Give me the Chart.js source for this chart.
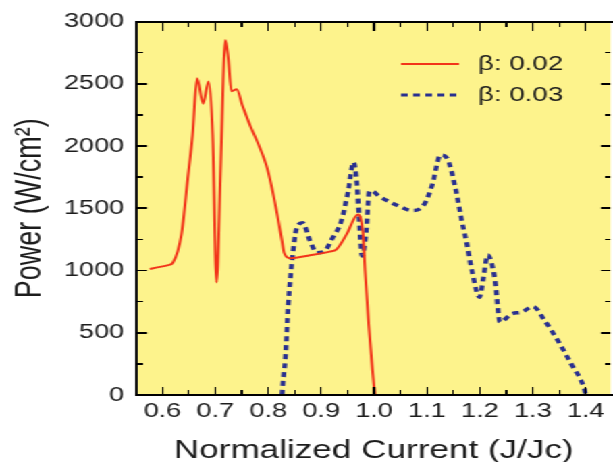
<!DOCTYPE html>
<html>
<head>
<meta charset="utf-8">
<script src="https://cdn.jsdelivr.net/npm/chart.js@4"></script>
<style>
  html, body { margin: 0; padding: 0; background: #fff; overflow: hidden; }
  /* the reference is stretched sideways, so the chart is drawn narrow and scaled */
  #wrap { position: relative; width: 454px; height: 462px; transform: scaleX(1.3502); transform-origin: 0 0; }
  #frameLayer { position: absolute; left: 0; top: 0; width: 454px; height: 462px; pointer-events: none; }
  #frameLayer div { position: absolute; background: #000; }
</style>
</head>
<body>
<div id="wrap"><canvas id="powerChart"></canvas><div id="frameLayer"></div></div>
<script>
/* ================= DATA ================= */
const redX = [0.576, 0.590, 0.611, 0.620, 0.636, 0.648, 0.657, 0.6655, 0.677, 0.687, 0.695,
  0.7024, 0.710, 0.719, 0.7245, 0.7305, 0.7404, 0.751, 0.757, 0.7667, 0.782, 0.798, 0.807,
  0.817, 0.826, 0.830, 0.8416, 0.879, 0.916, 0.929, 0.948, 0.9695, 0.975, 0.979, 0.983,
  0.990, 0.997, 1.0015];
const redY = [1011, 1025, 1043, 1064, 1290, 1742, 2088, 2545, 2340, 2518, 2088,
  904, 1822, 2851, 2700, 2440, 2455, 2328, 2260, 2155, 2008, 1822, 1662,
  1450, 1237, 1143, 1099, 1122, 1152, 1170, 1290, 1450, 1415, 1300, 1000,
  560, 200, 0];

const blueX = [0.826, 0.828, 0.832, 0.838, 0.845, 0.854, 0.865, 0.879, 0.8916, 0.907, 0.920,
  0.938, 0.951, 0.9614, 0.9677, 0.9714, 0.9775, 0.9852, 0.991, 0.9945, 1.010, 1.0476,
  1.0725, 1.0944, 1.110, 1.1257, 1.138, 1.1537, 1.166, 1.1755, 1.185, 1.1993, 1.2067,
  1.2148, 1.221, 1.2287, 1.238, 1.2598, 1.2785, 1.3004, 1.3223, 1.347, 1.372, 1.397, 1.400];
const blueY = [0, 106, 279, 731, 1077, 1343, 1383, 1237, 1143, 1157, 1250,
  1396, 1636, 1870, 1689, 1450, 1117, 1317, 1636, 1641, 1596, 1516,
  1481, 1529, 1689, 1928, 1902, 1662, 1396, 1210, 997, 785, 944,
  1125, 1077, 918, 585, 652, 665, 710, 598, 439, 253, 53, 0];

const seriesLabels = ["β: 0.02", "β: 0.03"];

const xMajorTicks = [0.6, 0.7, 0.8, 0.9, 1.0, 1.1, 1.2, 1.3, 1.4];
const xMinorTicks = [0.65, 0.75, 0.85, 0.95, 1.05, 1.15, 1.25, 1.35];
const yMajorTicks = [0, 500, 1000, 1500, 2000, 2500, 3000];
const yMinorTicks = [250, 750, 1250, 1750, 2250, 2750];

/* ================= HELPERS ================= */
const SX = 613 / 454;
const FONT = "'Liberation Sans', Arial, sans-serif";
const INK = '#1c1c1c';

function toPoints(xs, ys) {
  return xs.map((x, i) => ({ x: x, y: ys[i] }));
}

/* frame + inward ticks, placed from the chart scales */
function placeFrame(chart) {
  const a = chart.chartArea;
  const xs = chart.scales.x, ys = chart.scales.y;
  const layer = document.getElementById('frameLayer');
  layer.innerHTML = '';
  const bar = (l, t, w, h) => {
    const d = document.createElement('div');
    d.style.left = l + 'px';
    d.style.top = t + 'px';
    d.style.width = w + 'px';
    d.style.height = h + 'px';
    layer.appendChild(d);
  };
  bar(a.left - 1, a.top - 1, a.right - a.left + 4, 2);
  bar(a.left - 1, a.bottom - 1, a.right - a.left + 4, 2);
  bar(a.left - 1, a.top - 1, 2 / SX * 1.3, a.bottom - a.top + 2);

  const w = 1.6 / SX;
  xMajorTicks.concat(xMinorTicks).forEach(v => {
    const major = xMajorTicks.includes(v);
    const px = xs.getPixelForValue(v);
    bar(px - w / 2, a.bottom - (major ? 8 : 5), w, major ? 8 : 5);
    bar(px - w / 2, a.top, w, major ? 9 : 5);
  });
  yMajorTicks.concat(yMinorTicks).forEach(v => {
    const major = yMajorTicks.includes(v);
    const py = ys.getPixelForValue(v);
    const len = (major ? 10 : 6) / SX;
    bar(a.left, py - 0.8, len, 1.6);
    bar(a.right - len, py - 0.8, len, 1.6);
  });
}

/* yellow plot, legend inside the plot */
const plotDecor = {
  id: 'plotDecor',
  beforeDraw(chart) {
    const c = chart.ctx, a = chart.chartArea;
    c.save();
    c.fillStyle = '#fdf38c';
    c.fillRect(a.left, a.top, a.right - a.left, a.bottom - a.top);
    c.restore();
  },
  afterDraw(chart) {
    const c = chart.ctx;
    c.save();
    const rows = [64, 95];
    chart.data.datasets.forEach((ds, i) => {
      const y = rows[i];
      c.strokeStyle = ds.borderColor;
      c.lineWidth = i === 0 ? 2.2 : 3;
      c.setLineDash(ds.borderDash || []);
      c.beginPath();
      c.moveTo(297, y); c.lineTo(340, y);
      c.stroke();
      c.setLineDash([]);
      c.fillStyle = INK;
      c.font = '20.5px ' + FONT;
      c.textBaseline = 'middle';
      c.fillText(ds.label, 354, y);
    });
    c.restore();
  },
  afterRender(chart) {
    placeFrame(chart);
  }
};

/* ================= CHART ================= */
new Chart(document.getElementById('powerChart'), {
  type: 'line',
  data: {
    datasets: [
      {
        label: seriesLabels[0],
        data: toPoints(redX, redY),
        borderColor: '#f2341a',
        borderWidth: 2,
        pointRadius: 0,
        cubicInterpolationMode: 'monotone'
      },
      {
        label: seriesLabels[1],
        data: toPoints(blueX, blueY),
        borderColor: '#29308f',
        borderWidth: 3.5,
        borderDash: [5, 4],
        pointRadius: 0,
        cubicInterpolationMode: 'monotone'
      }
    ]
  },
  options: {
    responsive: true,
    maintainAspectRatio: false,
    animation: false,
    layout: { padding: { top: 19, right: 0, left: 0, bottom: 0 } },
    plugins: { legend: { display: false }, tooltip: { enabled: false } },
    scales: {
      x: {
        type: 'linear',
        min: 0.552,
        max: 1.447,
        afterFit: s => { s.height = 67; },
        afterBuildTicks: s => { s.ticks = xMajorTicks.map(v => ({ value: v })); },
        grid: { display: false, drawTicks: false },
        border: { display: false },
        ticks: {
          autoSkip: false,
          maxRotation: 0,
          padding: 4.5,
          color: INK,
          font: { family: FONT, size: 20 },
          callback: v => Number(v).toFixed(1)
        },
        title: {
          display: true,
          text: 'Normalized Current (J/Jc)',
          color: INK,
          font: { family: FONT, size: 26 },
          padding: { top: 0, bottom: -4 }
        }
      },
      y: {
        min: 0,
        max: 3000,
        afterFit: s => { s.width = 137 / SX; },
        afterBuildTicks: s => { s.ticks = yMajorTicks.map(v => ({ value: v })); },
        grid: { display: false, drawTicks: false },
        border: { display: false },
        ticks: {
          padding: 9.5,
          color: INK,
          font: { family: FONT, size: 20 },
          callback: v => String(v)
        },
        title: {
          display: true,
          text: 'Power (W/cm²)',
          color: INK,
          font: { family: FONT, size: 27 },
          padding: { top: 6, bottom: 0 }
        }
      }
    }
  },
  plugins: [plotDecor]
});
</script>
</body>
</html>
